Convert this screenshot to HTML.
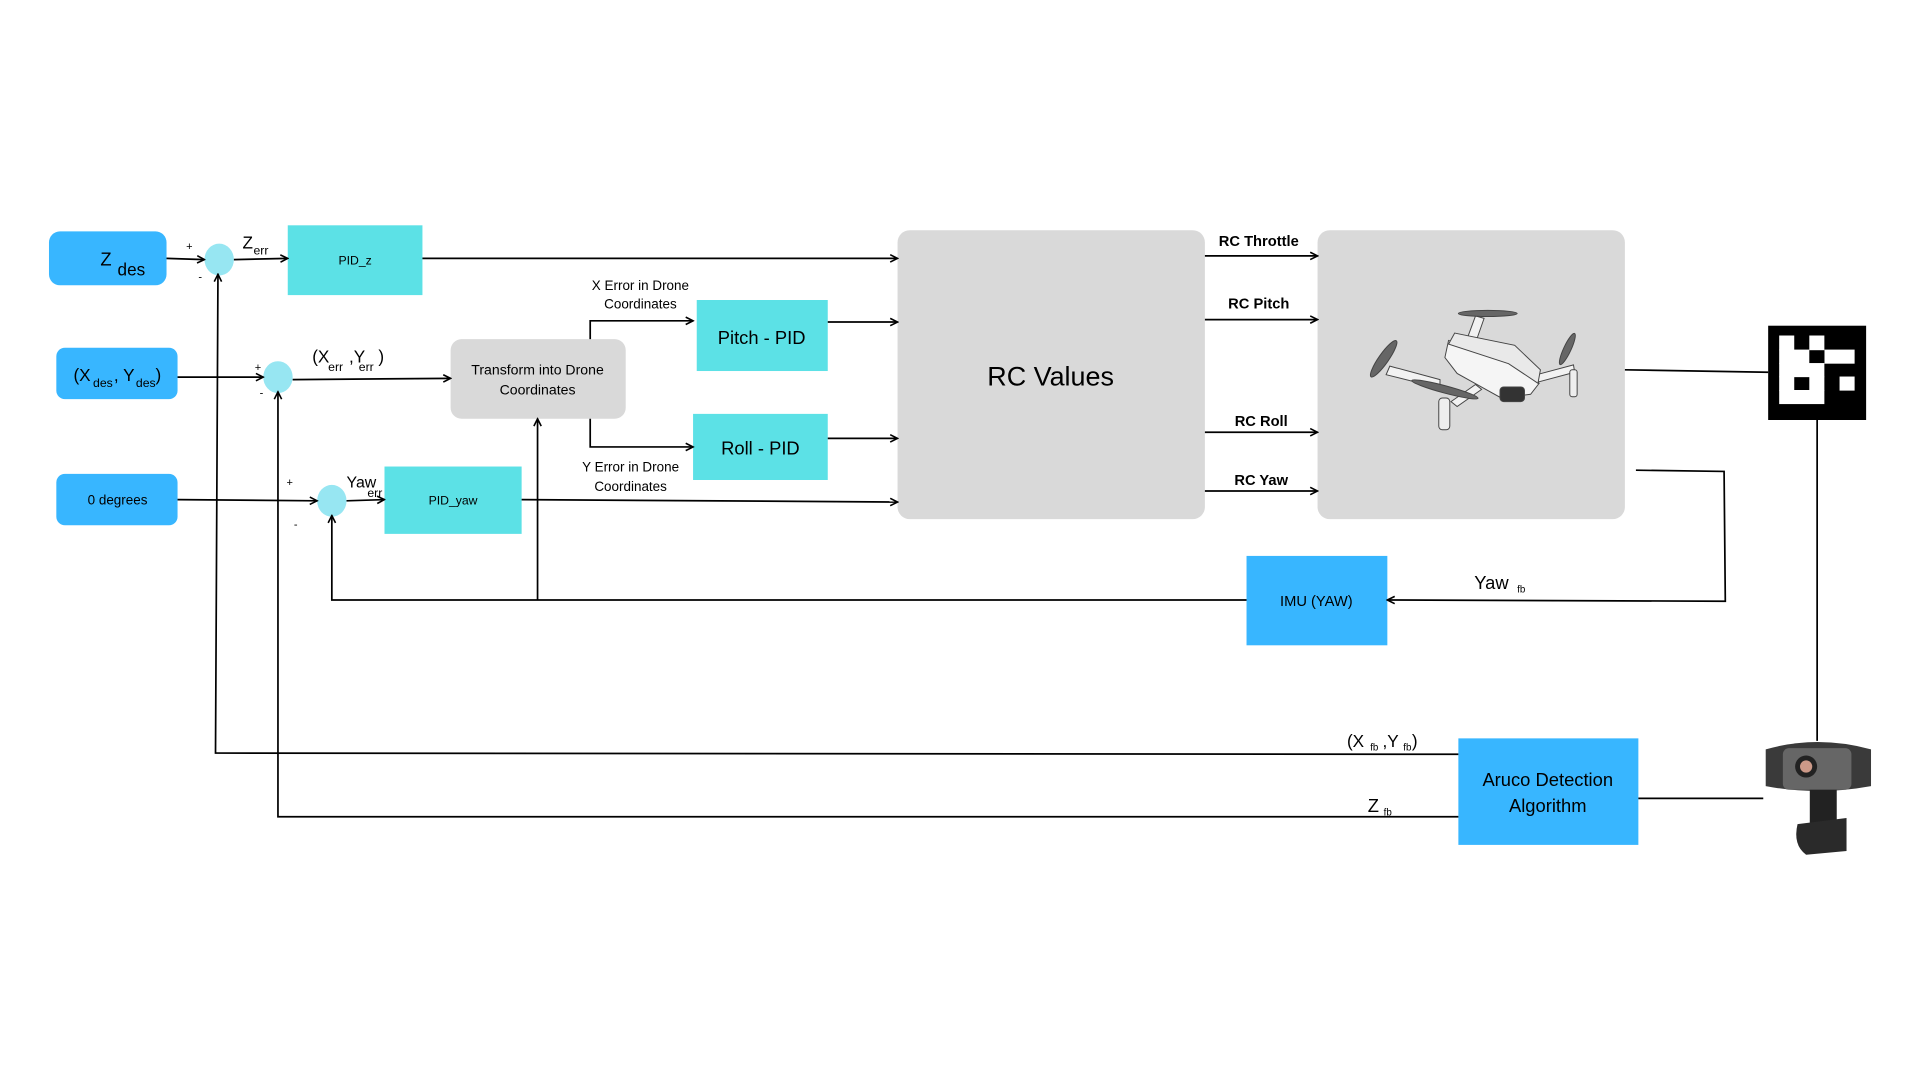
<!DOCTYPE html>
<html><head><meta charset="utf-8"><style>
html,body{margin:0;padding:0;background:#fff;width:1920px;height:1080px;overflow:hidden}
svg{display:block}
text{font-family:"Liberation Sans",sans-serif;fill:#000}
</style></head><body>
<svg width="1920" height="1080" viewBox="0 0 1568 882" xmlns="http://www.w3.org/2000/svg">
<defs>
<marker id="a" markerWidth="8" markerHeight="8" refX="7" refY="4" orient="auto" markerUnits="userSpaceOnUse">
<path d="M1,1 L7,4 L1,7" fill="none" stroke="#000" stroke-width="1.3"/></marker>
</defs>
<rect width="1568" height="882" fill="#fff"/>
<rect x="40" y="189" width="96" height="44" rx="9" fill="#38b6ff"/>
<text x="82" y="217" font-size="15">Z</text><text x="96" y="225" font-size="14">des</text>
<rect x="46" y="284" width="99" height="42" rx="7" fill="#38b6ff"/>
<text x="60" y="311" font-size="14">(X</text><text x="76" y="316" font-size="10">des</text><text x="93" y="311" font-size="14">, Y</text><text x="111" y="316" font-size="10">des</text><text x="127" y="311" font-size="14">)</text>
<rect x="46" y="387" width="99" height="42" rx="7" fill="#38b6ff"/>
<text x="96" y="412" font-size="11" text-anchor="middle">0 degrees</text>
<ellipse cx="179" cy="212" rx="12" ry="13" fill="#97e6f2"/>
<ellipse cx="227" cy="308" rx="12" ry="13" fill="#97e6f2"/>
<ellipse cx="271" cy="409" rx="12" ry="13" fill="#97e6f2"/>
<text x="152" y="204" font-size="9">+</text><text x="162" y="229" font-size="9">-</text>
<text x="208" y="303" font-size="9">+</text><text x="212" y="324" font-size="9">-</text>
<text x="234" y="397" font-size="9">+</text><text x="240" y="431" font-size="9">-</text>
<rect x="235" y="184" width="110" height="57" fill="#5ce1e6"/>
<text x="290" y="216" font-size="10" text-anchor="middle">PID_z</text>
<rect x="569" y="245" width="107" height="58" fill="#5ce1e6"/>
<text x="622" y="281" font-size="15" text-anchor="middle">Pitch - PID</text>
<rect x="566" y="338" width="110" height="54" fill="#5ce1e6"/>
<text x="621" y="371" font-size="15" text-anchor="middle">Roll - PID</text>
<rect x="314" y="381" width="112" height="55" fill="#5ce1e6"/>
<text x="370" y="412" font-size="10" text-anchor="middle">PID_yaw</text>
<rect x="368" y="277" width="143" height="65" rx="9" fill="#d9d9d9"/>
<text x="439" y="306" font-size="11.5" text-anchor="middle">Transform into Drone</text>
<text x="439" y="322" font-size="11.5" text-anchor="middle">Coordinates</text>
<rect x="733" y="188" width="251" height="236" rx="10" fill="#d9d9d9"/>
<text x="858" y="315" font-size="22" text-anchor="middle">RC Values</text>
<rect x="1076" y="188" width="251" height="236" rx="10" fill="#d9d9d9"/>
<g stroke="#444" stroke-width="0.8">
<path d="M1176,310 L1135,299 L1132,306 L1176,317 Z" fill="#f2f2f2"/>
<path d="M1255,306 L1285,298 L1286,304 L1256,312 Z" fill="#f2f2f2"/>
<path d="M1198,277 L1205,258 L1212,260 L1205,280 Z" fill="#f2f2f2"/>
<path d="M1205,314 L1185,328 L1190,332 L1210,318 Z" fill="#f2f2f2"/>
<path d="M1183,278 L1233,295 L1257,313 L1250,322 L1226,325 L1190,305 L1180,292 Z" fill="#f5f5f5"/>
<path d="M1188,272 L1237,282 L1258,302 L1256,313 L1232,297 L1183,281 Z" fill="#e9e9e9"/>
<rect x="1225" y="316" width="20" height="12" rx="3" fill="#333"/>
<rect x="1175" y="325" width="9" height="26" rx="3" fill="#eee"/>
<rect x="1282" y="302" width="6" height="22" rx="2" fill="#eee"/>
<ellipse cx="1130" cy="293" rx="4" ry="18" transform="rotate(35 1130 293)" fill="#666"/>
<ellipse cx="1280" cy="285" rx="3" ry="14" transform="rotate(25 1280 285)" fill="#666"/>
<ellipse cx="1215" cy="256" rx="24" ry="2.5" fill="#666"/>
<ellipse cx="1180" cy="318" rx="28" ry="3" transform="rotate(15 1180 318)" fill="#666"/>
</g>
<g font-size="12" font-weight="bold" text-anchor="middle">
<text x="1028" y="201">RC Throttle</text><text x="1028" y="252">RC Pitch</text>
<text x="1030" y="348">RC Roll</text><text x="1030" y="396">RC Yaw</text></g>
<!-- aruco marker: 5x5 grid, cell 12.3 x 11.3 -->
<rect x="1444" y="266" width="80" height="77" fill="#000"/>
<g fill="#fff">
<rect x="1453" y="274" width="12.3" height="12"/><rect x="1477.6" y="274" width="12.3" height="12"/>
<rect x="1453" y="285.5" width="24.6" height="11.5"/><rect x="1490" y="285.5" width="24.6" height="11.5"/>
<rect x="1453" y="296.5" width="36.9" height="11.5"/>
<rect x="1453" y="307.5" width="12.3" height="11.5"/><rect x="1477.6" y="307.5" width="12.3" height="11.5"/><rect x="1502.3" y="307.5" width="12.3" height="11.5"/>
<rect x="1453" y="318.5" width="36.9" height="11.5"/>
</g>
<rect x="1018" y="454" width="115" height="73" fill="#38b6ff"/>
<text x="1075" y="495" font-size="12" text-anchor="middle">IMU (YAW)</text>
<rect x="1191" y="603" width="147" height="87" fill="#38b6ff"/>
<text x="1264" y="642" font-size="15" text-anchor="middle">Aruco Detection</text>
<text x="1264" y="663" font-size="15" text-anchor="middle">Algorithm</text>
<path d="M1442,612 Q1484,600 1528,612 L1528,642 Q1484,650 1442,642 Z" fill="#3a3a3a"/>
<rect x="1456" y="611" width="56" height="34" rx="5" fill="#666"/>
<circle cx="1475" cy="626" r="9" fill="#222"/><circle cx="1475" cy="626" r="5" fill="#c98"/>
<path d="M1478,645 L1500,645 L1500,670 L1478,672 Z" fill="#222"/>
<path d="M1468,673 L1508,668 L1508,695 L1475,698 Q1464,690 1468,673 Z" fill="#2a2a2a"/>
<g stroke="#000" stroke-width="1.4" fill="none">
<path d="M136,211 L167,212" marker-end="url(#a)"/>
<path d="M191,212 L235,211" marker-end="url(#a)"/>
<path d="M345,211 L733,211" marker-end="url(#a)"/>
<path d="M145,308 L215,308" marker-end="url(#a)"/>
<path d="M239,310 L368,309" marker-end="url(#a)"/>
<path d="M482,277 L482,262 L566,262" marker-end="url(#a)"/>
<path d="M482,342 L482,365 L566,365" marker-end="url(#a)"/>
<path d="M676,263 L733,263" marker-end="url(#a)"/>
<path d="M676,358 L733,358" marker-end="url(#a)"/>
<path d="M145,408 L259,409" marker-end="url(#a)"/>
<path d="M283,409 L314,408" marker-end="url(#a)"/>
<path d="M426,408 L733,410" marker-end="url(#a)"/>
<path d="M984,209 L1076,209" marker-end="url(#a)"/>
<path d="M984,261 L1076,261" marker-end="url(#a)"/>
<path d="M984,353 L1076,353" marker-end="url(#a)"/>
<path d="M984,401 L1076,401" marker-end="url(#a)"/>
<path d="M1327,302 L1444,304"/>
<path d="M1336,384 L1408,385 L1409,491 L1133,490" marker-end="url(#a)"/>
<path d="M1018,490 L271,490 L271,421" marker-end="url(#a)"/>
<path d="M439,490 L439,342" marker-end="url(#a)"/>
<path d="M1484,343 L1484,605"/>
<path d="M1440,652 L1338,652"/>
<path d="M1191,616 L176,615 L178,224" marker-end="url(#a)"/>
<path d="M1191,667 L227,667 L227,320" marker-end="url(#a)"/>
</g>
<text x="198" y="203" font-size="14">Z</text><text x="207" y="208" font-size="10">err</text>
<text x="255" y="296" font-size="14">(X</text><text x="268" y="303" font-size="10">err</text><text x="285" y="296" font-size="14">,Y</text><text x="293" y="303" font-size="10">err</text><text x="309" y="296" font-size="14">)</text>
<text x="283" y="398" font-size="13">Yaw</text><text x="300" y="406" font-size="10">err</text>
<text x="523" y="237" font-size="11" text-anchor="middle">X Error in Drone</text>
<text x="523" y="252" font-size="11" text-anchor="middle">Coordinates</text>
<text x="515" y="385" font-size="11" text-anchor="middle">Y Error in Drone</text>
<text x="515" y="401" font-size="11" text-anchor="middle">Coordinates</text>
<text x="1204" y="481" font-size="15">Yaw</text><text x="1239" y="484" font-size="8">fb</text>
<text x="1100" y="610" font-size="14">(X</text><text x="1119" y="613" font-size="8">fb</text><text x="1129" y="610" font-size="14">,Y</text><text x="1146" y="613" font-size="8">fb</text><text x="1153" y="610" font-size="14">)</text>
<text x="1117" y="663" font-size="15">Z</text><text x="1130" y="666" font-size="8">fb</text>
</svg>
</body></html>
